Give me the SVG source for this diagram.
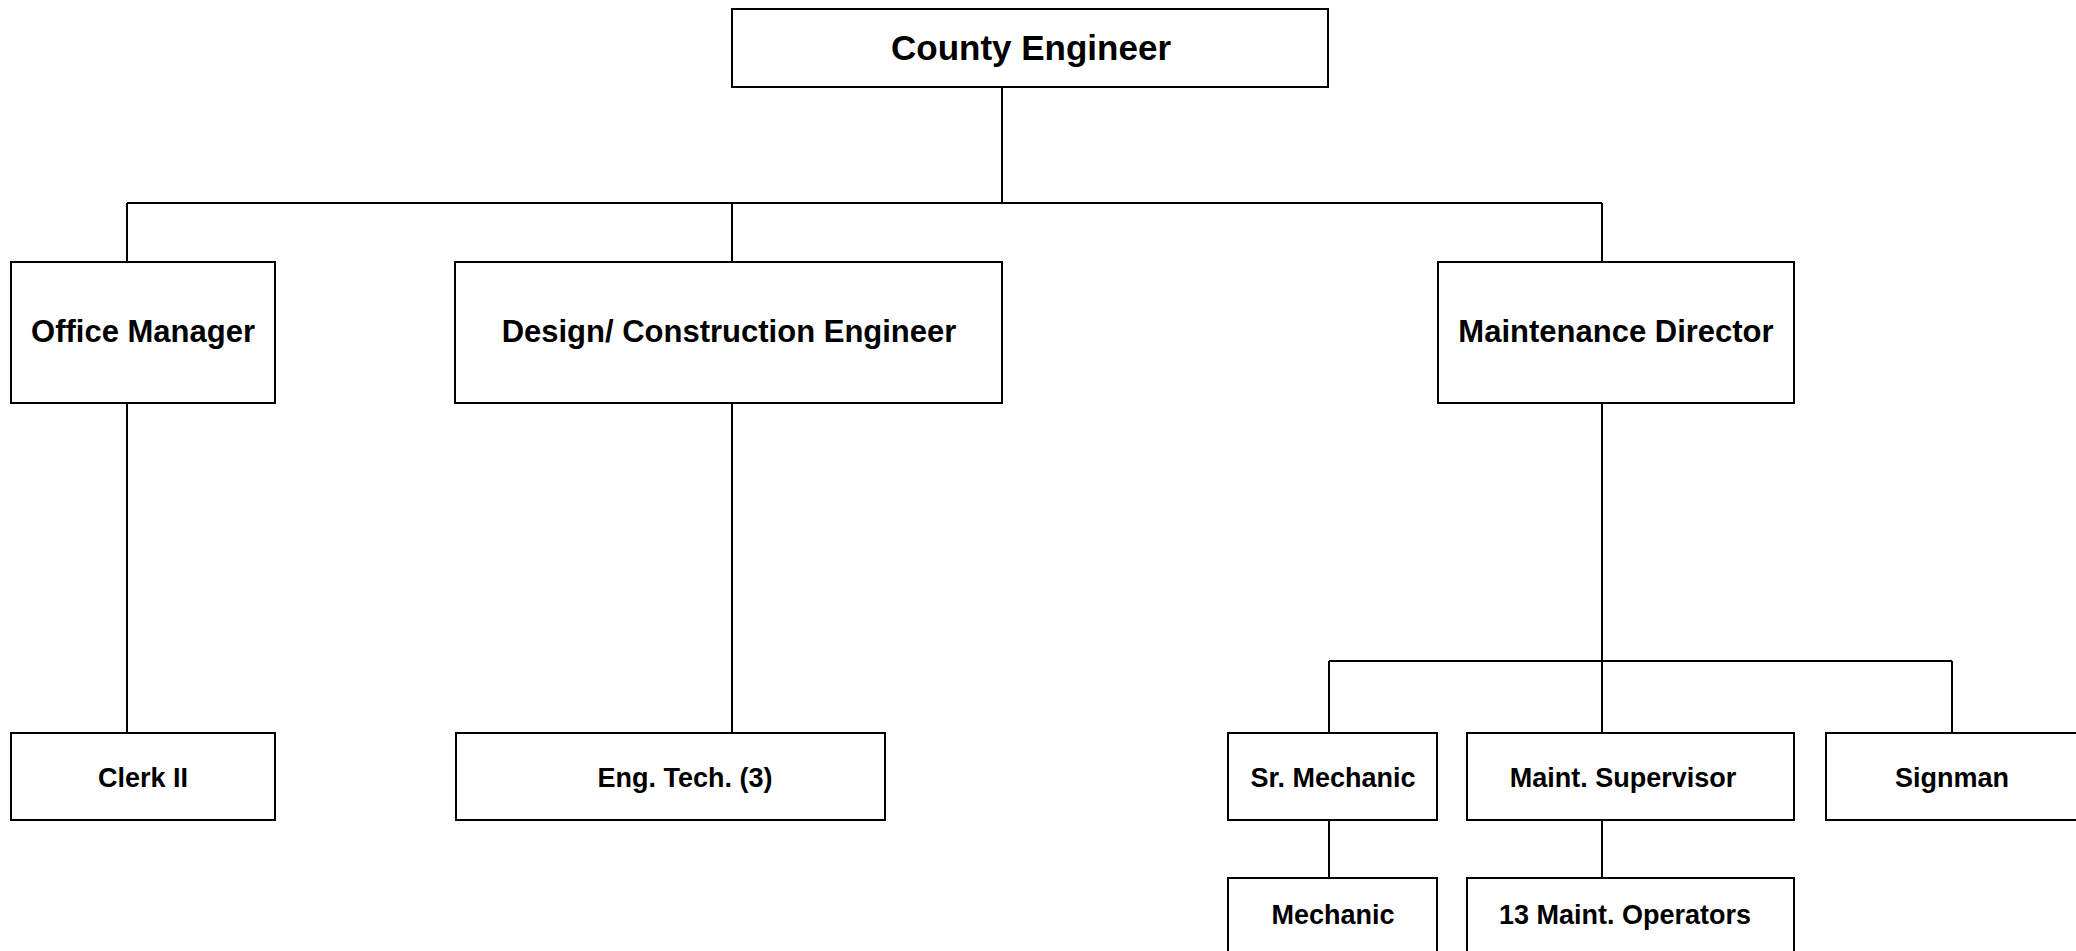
<svg xmlns="http://www.w3.org/2000/svg" width="2076" height="951" viewBox="0 0 2076 951">
<style>
.box{fill:#fff;stroke:#000;stroke-width:2}
.ln{fill:none;stroke:#000;stroke-width:2}
text{font-family:"Liberation Sans",Arial,sans-serif;font-weight:bold;fill:#000;text-anchor:middle}
.t1{font-size:35px}
.t2{font-size:31px}
.t3{font-size:27px}
</style>
<rect width="2076" height="951" fill="#fff"/>
<g id="connectors">
<path class="ln" d="M1002 87V203M127 203H1602M127 203V262M732 203V262M1602 203V262"/>
<path class="ln" d="M127 403V733M732 403V733M1602 403V733"/>
<path class="ln" d="M1329 661H1952M1329 661V733M1952 661V733"/>
<path class="ln" d="M1329 820V878M1602 820V878"/>
</g>
<g id="county-engineer"><rect class="box" x="732" y="9" width="596" height="78"/><text class="t1" x="1031" y="60">County Engineer</text></g>
<g id="office-manager"><rect class="box" x="11" y="262" width="264" height="141"/><text class="t2" x="143" y="342">Office Manager</text></g>
<g id="design-engineer"><rect class="box" x="455" y="262" width="547" height="141"/><text class="t2" x="729" y="342">Design/ Construction Engineer</text></g>
<g id="maintenance-director"><rect class="box" x="1438" y="262" width="356" height="141"/><text class="t2" x="1616" y="342">Maintenance Director</text></g>
<g id="clerk-ii"><rect class="box" x="11" y="733" width="264" height="87"/><text class="t3" x="143" y="787">Clerk II</text></g>
<g id="eng-tech"><rect class="box" x="456" y="733" width="429" height="87"/><text class="t3" x="685" y="787">Eng. Tech. (3)</text></g>
<g id="sr-mechanic"><rect class="box" x="1228" y="733" width="209" height="87"/><text class="t3" x="1333" y="787">Sr. Mechanic</text></g>
<g id="maint-supervisor"><rect class="box" x="1467" y="733" width="327" height="87"/><text class="t3" x="1623" y="787">Maint. Supervisor</text></g>
<g id="signman"><rect class="box" x="1826" y="733" width="252" height="87"/><text class="t3" x="1952" y="787">Signman</text></g>
<g id="mechanic"><rect class="box" x="1228" y="878" width="209" height="90"/><text class="t3" x="1333" y="924">Mechanic</text></g>
<g id="maint-operators"><rect class="box" x="1467" y="878" width="327" height="90"/><text class="t3" x="1625" y="924">13 Maint. Operators</text></g>
</svg>
